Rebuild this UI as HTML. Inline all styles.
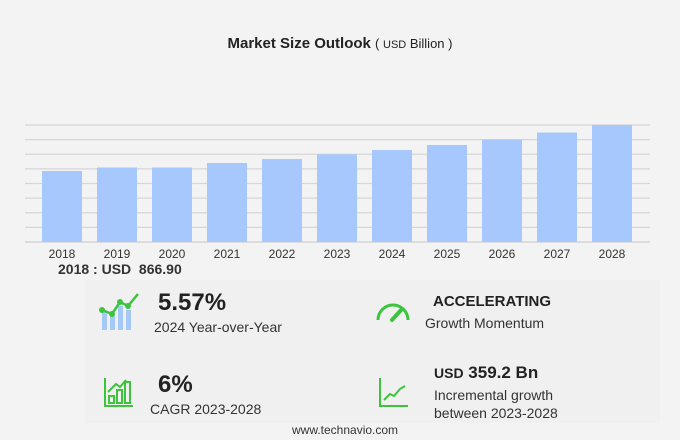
<!DOCTYPE html>
<html><head><meta charset="utf-8"><style>
body{margin:0;width:680px;height:440px;background:#f3f3f4;font-family:"Liberation Sans","DejaVu Sans",sans-serif;position:relative;overflow:hidden}
.t{position:absolute;white-space:nowrap;color:#222}
</style></head><body>
<div class="t" style="left:0;width:680px;top:35px;text-align:center;font-size:15px;font-weight:bold">Market Size Outlook <span style="font-weight:normal;font-size:13px">( <span style="font-size:11px">USD</span> Billion )</span></div>
<svg id="chart" width="680" height="270" style="position:absolute;left:0;top:0"></svg>
<div class="t" style="left:58px;top:261px;font-size:14px;font-weight:bold;color:#333">2018 : USD&nbsp; 866.90</div>
<div style="position:absolute;left:85px;top:280px;width:575px;height:143px;background:#f0f0f1"></div>
<svg style="position:absolute;left:98px;top:290px" width="46" height="42">
<rect x="4" y="22" width="5" height="18" fill="#a4c8f8"/><rect x="12" y="26" width="5" height="14" fill="#a4c8f8"/><rect x="20" y="16" width="5" height="24" fill="#a4c8f8"/><rect x="28" y="20" width="5" height="20" fill="#a4c8f8"/>
<polyline points="4,20 14,24 22,12 30,16 40,4" fill="none" stroke="#3cc43c" stroke-width="2.5"/><circle cx="4" cy="20" r="3" fill="#3cc43c"/><circle cx="14" cy="24" r="3" fill="#3cc43c"/><circle cx="22" cy="12" r="3" fill="#3cc43c"/><circle cx="30" cy="16" r="3" fill="#3cc43c"/></svg>
<div class="t" style="left:158px;top:289px;font-size:24px;font-weight:bold">5.57%</div>
<div class="t" style="left:154px;top:319px;font-size:14px;color:#333">2024 Year-over-Year</div>
<svg style="position:absolute;left:375px;top:298px" width="36" height="26"><path d="M3,22 A15,15 0 0 1 33,22" fill="none" stroke="#3cc43c" stroke-width="3"/><line x1="17" y1="22" x2="27" y2="11" stroke="#3cc43c" stroke-width="4" stroke-linecap="round"/></svg>
<div class="t" style="left:433px;top:293px;font-size:15px;font-weight:bold">ACCELERATING</div>
<div class="t" style="left:425px;top:315px;font-size:14px;color:#333">Growth Momentum</div>
<svg style="position:absolute;left:104px;top:378px" width="30" height="30"><g fill="none" stroke="#3cc43c" stroke-width="2"><polyline points="1,0 1,28 29,28"/><rect x="5" y="18" width="5" height="7"/><rect x="13" y="12" width="5" height="13"/><rect x="21" y="4" width="5" height="21"/><polyline points="4,14 12,6 16,9 22,2"/></g></svg>
<div class="t" style="left:158px;top:371px;font-size:24px;font-weight:bold">6%</div>
<div class="t" style="left:150px;top:401px;font-size:14px;color:#333">CAGR 2023-2028</div>
<svg style="position:absolute;left:379px;top:378px" width="30" height="30"><g fill="none" stroke="#3cc43c" stroke-width="2"><polyline points="1,0 1,28 29,28"/><polyline points="5,22 11,16 15,18 21,11 26,8"/></g></svg>
<div class="t" style="left:434px;top:363px;font-size:17px;font-weight:bold"><span style="font-size:14px">USD</span> 359.2 Bn</div>
<div class="t" style="left:434px;top:386px;font-size:14px;color:#333;line-height:18px">Incremental growth<br>between 2023-2028</div>
<div class="t" style="left:292px;top:423px;font-size:12px;color:#333">www.technavio.com</div>
<script>
const years=["2018","2019","2020","2021","2022","2023","2024","2025","2026","2027","2028"];
const values=[866.9,910,910,965,1013,1070,1123,1185,1251,1337,1429];
const svg=document.getElementById('chart');const NS='http://www.w3.org/2000/svg';
const base=242,top0=125,vmax=1429;
const y=v=>base-(v/vmax)*(base-top0);
const x=i=>42+i*55;
for(let k=0;k<=8;k++){const l=document.createElementNS(NS,'line');const gy=top0+k*(base-top0)/8;
l.setAttribute('x1',25);l.setAttribute('x2',650);l.setAttribute('y1',gy);l.setAttribute('y2',gy);
l.setAttribute('stroke',k==8?'#cfcfd2':'#d6d6d9');l.setAttribute('stroke-width',1.2);


svg.appendChild(l);}
values.forEach((v,i)=>{const r=document.createElementNS(NS,'rect');
r.setAttribute('x',x(i));r.setAttribute('width',40);r.setAttribute('y',y(v));r.setAttribute('height',base-y(v));r.setAttribute('fill','#a6c8fc');


svg.appendChild(r);
const t=document.createElementNS(NS,'text');t.setAttribute('x',x(i)+20);t.setAttribute('y',258);t.setAttribute('text-anchor','middle');t.setAttribute('font-size','12');t.setAttribute('fill','#333');t.textContent=years[i];


svg.appendChild(t);});
</script>
</body></html>
